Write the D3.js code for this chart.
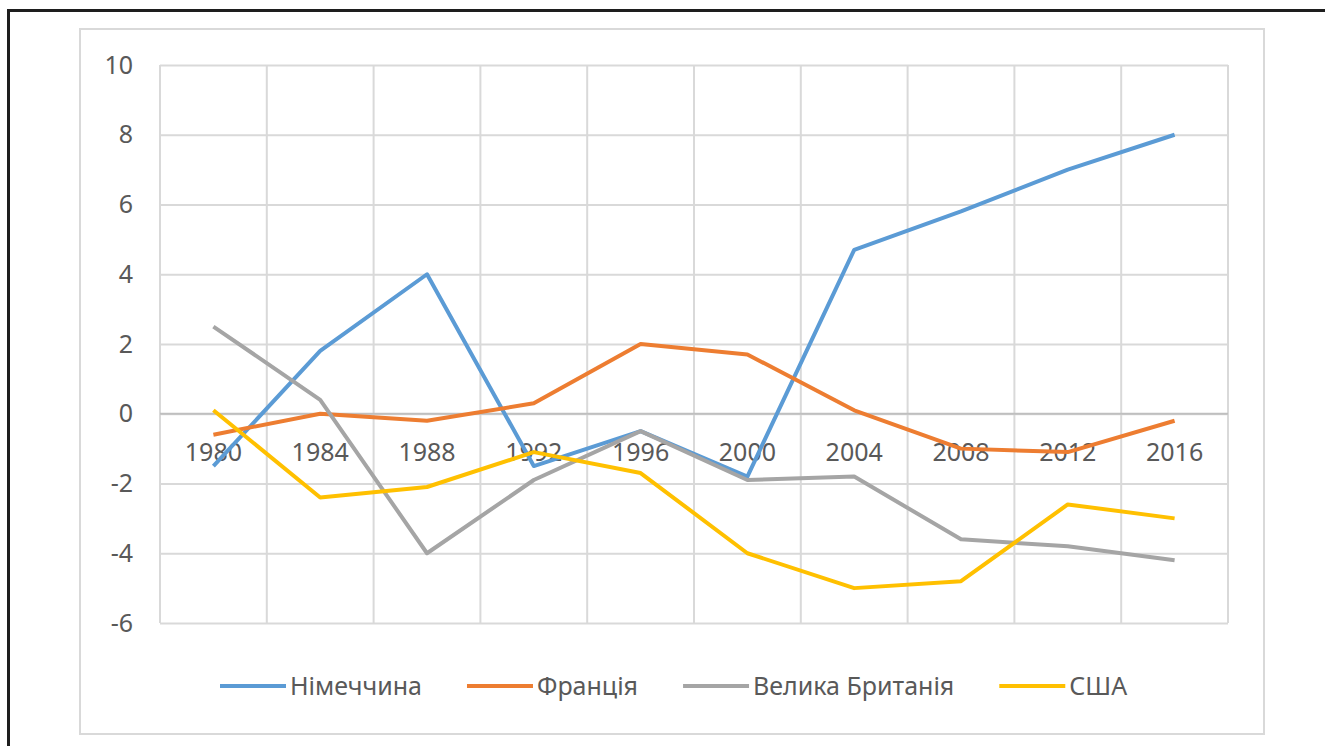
<!DOCTYPE html>
<html>
<head>
<meta charset="utf-8">
<script src="https://cdn.jsdelivr.net/npm/d3@7"></script>
<style>
  body { margin: 0; background: #fff; }
  text { font-family: "Noto Sans", sans-serif; fill: #595959; }
</style>
</head>
<body>
<script>
  // categories and series
  var years = ["1980", "1984", "1988", "1992", "1996", "2000", "2004", "2008", "2012", "2016"];
  var germany = [-1.5, 1.8, 4.0, -1.5, -0.5, -1.8, 4.7, 5.8, 7.0, 8.0];
  var france = [-0.6, 0.0, -0.2, 0.3, 2.0, 1.7, 0.1, -1.0, -1.1, -0.2];
  var britain = [2.5, 0.4, -4.0, -1.9, -0.5, -1.9, -1.8, -3.6, -3.8, -4.2];
  var usa = [0.1, -2.4, -2.1, -1.1, -1.7, -4.0, -5.0, -4.8, -2.6, -3.0];
  var names = ["Німеччина", "Франція", "Велика Британія", "США"];
  var yTicks = [-6, -4, -2, 0, 2, 4, 6, 8, 10];

  var series = [germany, france, britain, usa];
  var colors = ["#5b9bd5", "#ed7d31", "#a5a5a5", "#ffc000"];

  var width = 1325,
    height = 746;

  var svg = d3.select("body").append("svg")
    .attr("width", width)
    .attr("height", height);

  // outer black frame (left and top edges only)
  svg.append("path")
    .attr("d", "M8.5,746V10.5H1325")
    .attr("fill", "none")
    .attr("stroke", "#1e1e1e")
    .attr("stroke-width", 3);

  // chart area box
  svg.append("rect")
    .attr("x", 80).attr("y", 29)
    .attr("width", 1184).attr("height", 705)
    .attr("fill", "#fff")
    .attr("stroke", "#d9d9d9")
    .attr("stroke-width", 2);

  var plot = { left: 160, top: 65, right: 1228, bottom: 623 };

  var x = d3.scaleBand()
    .domain(years)
    .range([plot.left, plot.right])
    .padding(0);

  var y = d3.scaleLinear()
    .domain([-6, 10])
    .range([plot.bottom, plot.top]);

  // horizontal gridlines + y labels (plain hyphen minus, like the original)
  var yAxis = svg.append("g")
    .attr("transform", "translate(" + plot.left + ",0)")
    .call(d3.axisLeft(y)
      .tickValues(yTicks)
      .tickFormat(function(d) { return String(d); })
      .tickSize(-(plot.right - plot.left))
      .tickPadding(27));
  yAxis.select(".domain").remove();
  yAxis.selectAll(".tick line").attr("stroke", "#d9d9d9").attr("stroke-width", 2);
  yAxis.selectAll(".tick text")
    .attr("font-size", 25)
    .attr("font-family", "Noto Sans")
    .attr("fill", "#595959");

  // vertical gridlines at band edges
  var edges = years.map(function(d) { return x(d); }).concat([plot.right]);
  svg.append("g").selectAll("line")
    .data(edges)
    .enter().append("line")
    .attr("x1", function(d) { return d; })
    .attr("x2", function(d) { return d; })
    .attr("y1", plot.top)
    .attr("y2", plot.bottom)
    .attr("stroke", "#d9d9d9")
    .attr("stroke-width", 2);

  // zero axis line
  svg.append("line")
    .attr("x1", plot.left).attr("x2", plot.right)
    .attr("y1", y(0)).attr("y2", y(0))
    .attr("stroke", "#bfbfbf")
    .attr("stroke-width", 2);

  // category labels sit just under the zero line
  svg.append("g").selectAll("text")
    .data(years)
    .enter().append("text")
    .attr("x", function(d) { return x(d) + x.bandwidth() / 2; })
    .attr("y", y(0) + 47)
    .attr("text-anchor", "middle")
    .attr("font-size", 25)
    .text(function(d) { return d; });

  var line = d3.line()
    .x(function(d, i) { return x(years[i]) + x.bandwidth() / 2; })
    .y(function(d) { return y(d); });

  svg.append("g").selectAll("path")
    .data(series)
    .enter().append("path")
    .attr("d", line)
    .attr("fill", "none")
    .attr("stroke", function(d, i) { return colors[i]; })
    .attr("stroke-width", 4)
    .attr("stroke-linejoin", "round");

  // legend
  var legend = svg.append("g").attr("transform", "translate(0,686)");
  var lx = 220;
  names.forEach(function(n, i) {
    legend.append("line")
      .attr("x1", lx).attr("x2", lx + 66)
      .attr("y1", 0).attr("y2", 0)
      .attr("stroke", colors[i])
      .attr("stroke-width", 4);
    var t = legend.append("text")
      .attr("x", lx + 70)
      .attr("y", 9)
      .attr("font-size", 25)
      .text(n);
    lx += 70 + t.node().getComputedTextLength() + 45;
  });
</script>
</body>
</html>
